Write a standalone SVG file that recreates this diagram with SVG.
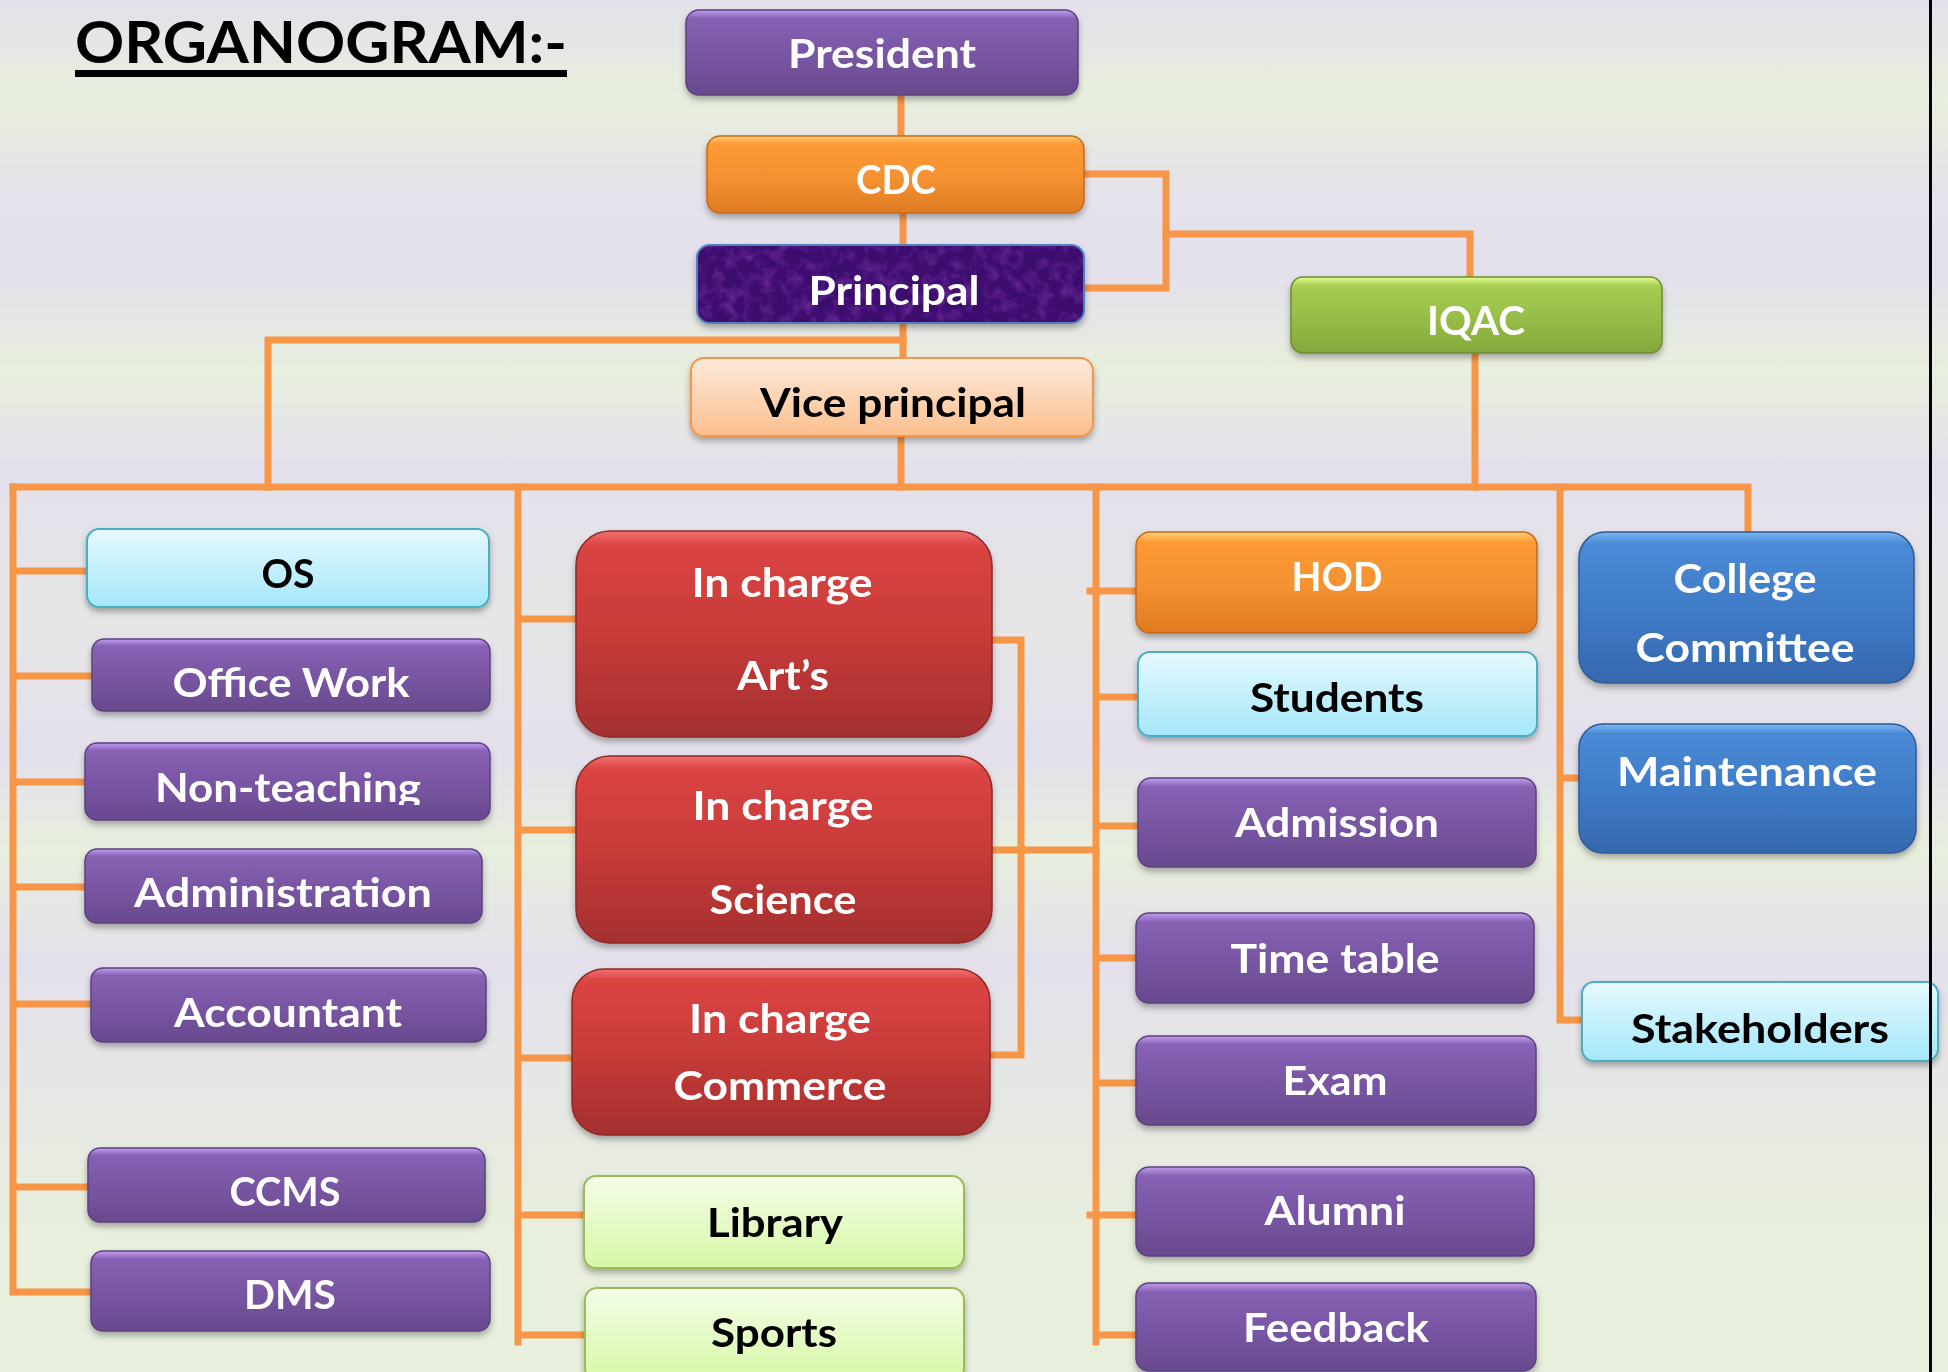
<svg xmlns="http://www.w3.org/2000/svg" width="1948" height="1372" viewBox="0 0 1948 1372">
<style>
.t{font-family:Lato,"Open Sans","Liberation Sans",sans-serif;font-weight:700;font-size:41px;text-anchor:middle}
.w{fill:#ffffff}
.k{fill:#000000}
.c{fill:none;stroke:#f79646;stroke-width:7;stroke-linejoin:miter;stroke-linecap:square}
.pu{fill:url(#gPu);stroke:#5c417f;stroke-width:1.5}
.or{fill:url(#gOr);stroke:#c86a18;stroke-width:1.5}
.rd{fill:url(#gRd);stroke:#8e2a28;stroke-width:1.5}
.bl{fill:url(#gBl);stroke:#2f5a98;stroke-width:1.5}
.gr{fill:url(#gGr);stroke:#6e8c30;stroke-width:1.5}
.cy{fill:url(#gCy);stroke:#4bacc6;stroke-width:2}
.li{fill:url(#gLi);stroke:#9bbb59;stroke-width:2}
.pe{fill:url(#gPe);stroke:#f79646;stroke-width:2}
.sh{filter:url(#shadow)}
</style>
<defs>
<linearGradient id="bg" x1="0" y1="0" x2="0" y2="1">
<stop offset="0" stop-color="#e3e0ec"/>
<stop offset="0.07" stop-color="#e8efdd"/>
<stop offset="0.14" stop-color="#e4e2ea"/>
<stop offset="0.2" stop-color="#e3e0ec"/>
<stop offset="0.27" stop-color="#e8efdd"/>
<stop offset="0.34" stop-color="#e3e0ec"/>
<stop offset="0.45" stop-color="#e6e6e6"/>
<stop offset="0.55" stop-color="#e3e0ec"/>
<stop offset="0.62" stop-color="#e8efdd"/>
<stop offset="0.7" stop-color="#e3e0ec"/>
<stop offset="0.8" stop-color="#e6e8e4"/>
<stop offset="0.9" stop-color="#e8efdd"/>
<stop offset="1" stop-color="#e8efdd"/>
</linearGradient>
<linearGradient id="gPu" x1="0" y1="0" x2="0" y2="1">
<stop offset="0" stop-color="#c09ef0"/>
<stop offset="0.1" stop-color="#8762b4"/>
<stop offset="0.5" stop-color="#7956a4"/>
<stop offset="1" stop-color="#684a8e"/>
</linearGradient>
<linearGradient id="gOr" x1="0" y1="0" x2="0" y2="1">
<stop offset="0" stop-color="#ffd27a"/>
<stop offset="0.1" stop-color="#fd9a35"/>
<stop offset="0.55" stop-color="#f49130"/>
<stop offset="1" stop-color="#df7a22"/>
</linearGradient>
<linearGradient id="gRd" x1="0" y1="0" x2="0" y2="1">
<stop offset="0" stop-color="#f27070"/>
<stop offset="0.07" stop-color="#db4443"/>
<stop offset="0.5" stop-color="#c73b39"/>
<stop offset="1" stop-color="#a52f2f"/>
</linearGradient>
<linearGradient id="gBl" x1="0" y1="0" x2="0" y2="1">
<stop offset="0" stop-color="#7cb6f2"/>
<stop offset="0.08" stop-color="#4a8ad6"/>
<stop offset="0.5" stop-color="#407cc8"/>
<stop offset="1" stop-color="#3568ae"/>
</linearGradient>
<linearGradient id="gGr" x1="0" y1="0" x2="0" y2="1">
<stop offset="0" stop-color="#e2ff92"/>
<stop offset="0.12" stop-color="#a6cd52"/>
<stop offset="0.5" stop-color="#98bf48"/>
<stop offset="1" stop-color="#85a73c"/>
</linearGradient>
<linearGradient id="gCy" x1="0" y1="0" x2="0" y2="1">
<stop offset="0" stop-color="#e6f9fe"/>
<stop offset="1" stop-color="#a4e7fa"/>
</linearGradient>
<linearGradient id="gLi" x1="0" y1="0" x2="0" y2="1">
<stop offset="0" stop-color="#f4fde8"/>
<stop offset="1" stop-color="#d6f8a6"/>
</linearGradient>
<linearGradient id="gPe" x1="0" y1="0" x2="0" y2="1">
<stop offset="0" stop-color="#fdeadc"/>
<stop offset="1" stop-color="#fcbf8e"/>
</linearGradient>
<filter id="shadow" x="-10%" y="-20%" width="120%" height="150%">
<feDropShadow dx="0" dy="4" stdDeviation="3" flood-color="#000" flood-opacity="0.3"/>
</filter>
<filter id="tex" x="0" y="0" width="100%" height="100%">
<feTurbulence type="fractalNoise" baseFrequency="0.08" numOctaves="3" seed="4" result="n"/>
<feColorMatrix in="n" type="matrix" values="0 0 0 0 0.33  0 0 0 0 0.08  0 0 0 0 0.58  0 0 0 0.9 -0.35" result="c"/>
<feComposite in="c" in2="SourceGraphic" operator="in"/>
</filter>
<clipPath id="ntClip"><rect x="85" y="743" width="405" height="62"/></clipPath>
</defs>
<rect x="0" y="0" width="1948" height="1372" fill="url(#bg)"/>
<g id="title">
<text x="75" y="63" style="font-family:Lato,'Open Sans','Liberation Sans',sans-serif;font-weight:700;font-size:58px" fill="#000" textLength="492" lengthAdjust="spacingAndGlyphs">ORGANOGRAM:-</text>
<rect x="75" y="70" width="492" height="7" fill="#000"/>
</g>
<g id="connectors">
<path class="c" d="M901,95 V136"/>
<path class="c" d="M903,213 V245"/>
<path class="c" d="M903,323 V358"/>
<path class="c" d="M903,340 H268 V487"/>
<path class="c" d="M901,436 V487"/>
<path class="c" d="M1084,174 H1166 V288 H1084"/>
<path class="c" d="M1166,234 H1470 V277"/>
<path class="c" d="M1475,353 V487"/>
<path class="c" d="M13,487 H1748 V530"/>
<path class="c" d="M13,487 V1292 H91 M13,571 H87 M13,676 H92 M13,782 H85 M13,887 H85 M13,1004 H91 M13,1187 H88"/>
<path class="c" d="M518,487 V1342 M518,619 H576 M518,830 H576 M518,1058 H572 M518,1215 H584 M518,1335 H585"/>
<path class="c" d="M992,640 H1021 V1055 H990"/>
<path class="c" d="M992,850 H1096"/>
<path class="c" d="M1096,487 V1342 M1090,591 H1136 M1096,697 H1138 M1096,826 H1138 M1096,958 H1136 M1096,1083 H1136 M1090,1215 H1136 M1096,1335 H1136"/>
<path class="c" d="M1560,487 V1020 H1582 M1560,778 H1579"/>
</g>
<g id="president" class="sh"><rect class="pu" x="686" y="10" width="392" height="85" rx="13"/><text class="t w" x="882" y="68" textLength="188" lengthAdjust="spacingAndGlyphs">President</text></g>
<g id="cdc" class="sh"><rect class="or" x="707" y="136" width="377" height="77" rx="13"/><text class="t w" x="896" y="194" textLength="80" lengthAdjust="spacingAndGlyphs">CDC</text></g>
<g id="principal" class="sh"><rect x="697" y="245" width="387" height="78" rx="13" fill="#3a0a6c" stroke="#4f81bd" stroke-width="2"/><rect x="698" y="246" width="385" height="76" rx="12" fill="#5a1aa0" filter="url(#tex)"/><text class="t w" x="894" y="305" textLength="171" lengthAdjust="spacingAndGlyphs">Principal</text></g>
<g id="vice-principal" class="sh"><rect class="pe" x="691" y="358" width="402" height="78" rx="13"/><text class="t k" x="893" y="417" textLength="266" lengthAdjust="spacingAndGlyphs">Vice principal</text></g>
<g id="iqac" class="sh"><rect class="gr" x="1291" y="277" width="371" height="76" rx="12"/><text class="t w" x="1476" y="335" textLength="98" lengthAdjust="spacingAndGlyphs">IQAC</text></g>
<g id="os" class="sh"><rect class="cy" x="87" y="529" width="402" height="78" rx="12"/><text class="t k" x="288" y="588" textLength="53" lengthAdjust="spacingAndGlyphs">OS</text></g>
<g id="office-work" class="sh"><rect class="pu" x="92" y="639" width="398" height="72" rx="12"/><text class="t w" x="291" y="697" textLength="237" lengthAdjust="spacingAndGlyphs">Office Work</text></g>
<g id="non-teaching" class="sh"><rect class="pu" x="85" y="743" width="405" height="77" rx="12"/><text class="t w" x="288" y="802" textLength="266" lengthAdjust="spacingAndGlyphs" clip-path="url(#ntClip)">Non-teaching</text></g>
<g id="administration" class="sh"><rect class="pu" x="85" y="849" width="397" height="74" rx="12"/><text class="t w" x="283" y="907" textLength="298" lengthAdjust="spacingAndGlyphs">Administration</text></g>
<g id="accountant" class="sh"><rect class="pu" x="91" y="968" width="395" height="74" rx="12"/><text class="t w" x="288" y="1027" textLength="228" lengthAdjust="spacingAndGlyphs">Accountant</text></g>
<g id="ccms" class="sh"><rect class="pu" x="88" y="1148" width="397" height="74" rx="12"/><text class="t w" x="285" y="1206" textLength="111" lengthAdjust="spacingAndGlyphs">CCMS</text></g>
<g id="dms" class="sh"><rect class="pu" x="91" y="1251" width="399" height="80" rx="12"/><text class="t w" x="290" y="1309" textLength="92" lengthAdjust="spacingAndGlyphs">DMS</text></g>
<g id="incharge-arts" class="sh"><rect class="rd" x="576" y="531" width="416" height="206" rx="34"/><text class="t w" x="782" y="597" textLength="181" lengthAdjust="spacingAndGlyphs">In charge</text><text class="t w" x="783" y="690" textLength="92" lengthAdjust="spacingAndGlyphs">Art’s</text></g>
<g id="incharge-science" class="sh"><rect class="rd" x="576" y="756" width="416" height="187" rx="34"/><text class="t w" x="783" y="820" textLength="181" lengthAdjust="spacingAndGlyphs">In charge</text><text class="t w" x="783" y="914" textLength="147" lengthAdjust="spacingAndGlyphs">Science</text></g>
<g id="incharge-commerce" class="sh"><rect class="rd" x="572" y="969" width="418" height="166" rx="32"/><text class="t w" x="780" y="1033" textLength="182" lengthAdjust="spacingAndGlyphs">In charge</text><text class="t w" x="780" y="1100" textLength="213" lengthAdjust="spacingAndGlyphs">Commerce</text></g>
<g id="library" class="sh"><rect class="li" x="584" y="1176" width="380" height="92" rx="12"/><text class="t k" x="775" y="1237" textLength="136" lengthAdjust="spacingAndGlyphs">Library</text></g>
<g id="sports" class="sh"><rect class="li" x="585" y="1288" width="379" height="92" rx="12"/><text class="t k" x="774" y="1347" textLength="126" lengthAdjust="spacingAndGlyphs">Sports</text></g>
<g id="hod" class="sh"><rect class="or" x="1136" y="532" width="401" height="101" rx="14"/><text class="t w" x="1337" y="591" textLength="91" lengthAdjust="spacingAndGlyphs">HOD</text></g>
<g id="students" class="sh"><rect class="cy" x="1138" y="652" width="399" height="84" rx="12"/><text class="t k" x="1337" y="712" textLength="174" lengthAdjust="spacingAndGlyphs">Students</text></g>
<g id="admission" class="sh"><rect class="pu" x="1138" y="778" width="398" height="89" rx="13"/><text class="t w" x="1337" y="837" textLength="204" lengthAdjust="spacingAndGlyphs">Admission</text></g>
<g id="time-table" class="sh"><rect class="pu" x="1136" y="913" width="398" height="90" rx="13"/><text class="t w" x="1335" y="973" textLength="209" lengthAdjust="spacingAndGlyphs">Time table</text></g>
<g id="exam" class="sh"><rect class="pu" x="1136" y="1036" width="400" height="89" rx="13"/><text class="t w" x="1335" y="1095" textLength="105" lengthAdjust="spacingAndGlyphs">Exam</text></g>
<g id="alumni" class="sh"><rect class="pu" x="1136" y="1167" width="398" height="89" rx="13"/><text class="t w" x="1335" y="1225" textLength="141" lengthAdjust="spacingAndGlyphs">Alumni</text></g>
<g id="feedback" class="sh"><rect class="pu" x="1136" y="1283" width="400" height="88" rx="13"/><text class="t w" x="1336" y="1342" textLength="186" lengthAdjust="spacingAndGlyphs">Feedback</text></g>
<g id="college-committee" class="sh"><rect class="bl" x="1579" y="532" width="335" height="151" rx="26"/><text class="t w" x="1745" y="593" textLength="143" lengthAdjust="spacingAndGlyphs">College</text><text class="t w" x="1745" y="662" textLength="219" lengthAdjust="spacingAndGlyphs">Committee</text></g>
<g id="maintenance" class="sh"><rect class="bl" x="1579" y="724" width="337" height="129" rx="24"/><text class="t w" x="1747" y="786" textLength="260" lengthAdjust="spacingAndGlyphs">Maintenance</text></g>
<g id="stakeholders" class="sh"><rect class="cy" x="1582" y="982" width="356" height="79" rx="12"/><text class="t k" x="1760" y="1043" textLength="258" lengthAdjust="spacingAndGlyphs">Stakeholders</text></g>
<rect x="1929" y="0" width="3" height="1372" fill="#000"/>
</svg>
